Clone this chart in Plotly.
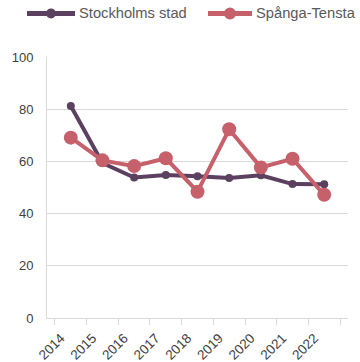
import plotly.graph_objects as go

years = ["2014", "2015", "2016", "2017", "2018", "2019", "2020", "2021", "2022"]
stockholm = [81.2, 59.4, 53.8, 54.8, 54.3, 53.6, 54.7, 51.3, 51.2]
spanga = [69.1, 60.4, 58.2, 61.2, 48.4, 72.3, 57.7, 61.0, 47.2]
series_names = ["Stockholms stad", "Spånga-Tensta"]

purple = "#5c4060"
red = "#c6606b"

W, H = 360, 362
ML, MR, MT, MB = 47, 12, 57, 44
PW, PH = W - ML - MR, H - MT - MB

fig = go.Figure()
fig.add_trace(go.Scatter(
    x=years, y=stockholm, name=series_names[0], mode="lines+markers",
    line=dict(color=purple, width=4), marker=dict(color=purple, size=8),
    showlegend=False,
))
fig.add_trace(go.Scatter(
    x=years, y=spanga, name=series_names[1], mode="lines+markers",
    line=dict(color=red, width=4), marker=dict(color=red, size=14),
    showlegend=False,
))


def px_x(p):
    return (p - ML) / PW


def px_y(p):
    return (H - MB - p) / PH


# Legend drawn above the plot: a line sample with a dot, then the series name
legend_items = [
    (series_names[0], purple, 27, 75, 5),
    (series_names[1], red, 208, 252, 6),
]
legend_y = 13.5
for name, col, x0, x1, r in legend_items:
    fig.add_shape(type="line", xref="paper", yref="paper",
                  x0=px_x(x0), x1=px_x(x1), y0=px_y(legend_y), y1=px_y(legend_y),
                  line=dict(color=col, width=5))
    xc = (x0 + x1) / 2
    fig.add_shape(type="circle", xref="paper", yref="paper",
                  x0=px_x(xc - r), x1=px_x(xc + r),
                  y0=px_y(legend_y + r), y1=px_y(legend_y - r),
                  fillcolor=col, line=dict(width=0))
    fig.add_annotation(text=name, xref="paper", yref="paper",
                       x=px_x(x1 + 2), y=px_y(legend_y), xanchor="left",
                       yanchor="middle", showarrow=False,
                       font=dict(size=14.7, color="#595959"))

fig.update_layout(
    width=W, height=H,
    margin=dict(l=ML, r=MR, t=MT, b=MB, autoexpand=False),
    paper_bgcolor="white", plot_bgcolor="white",
    font=dict(family="Liberation Sans, Arial, sans-serif", color="#404040", size=13),
    showlegend=False,
)
fig.update_xaxes(
    type="category", tickangle=-45, tickson="boundaries",
    showgrid=False, showline=True, linecolor="#d9d9d9", linewidth=1,
    ticks="outside", ticklen=6, tickcolor="#d9d9d9",
    tickfont=dict(size=13.5, color="#404040"),
    ticklabelshift=-10, ticklabelstandoff=6,
)
fig.update_yaxes(
    range=[0, 100], dtick=20, showgrid=True, gridcolor="#d9d9d9", gridwidth=1,
    showline=True, linecolor="#d9d9d9", linewidth=1, zeroline=False,
    tickfont=dict(size=13, color="#404040"), ticks="", ticklabelstandoff=10,
)

fig.write_html("out.html")
